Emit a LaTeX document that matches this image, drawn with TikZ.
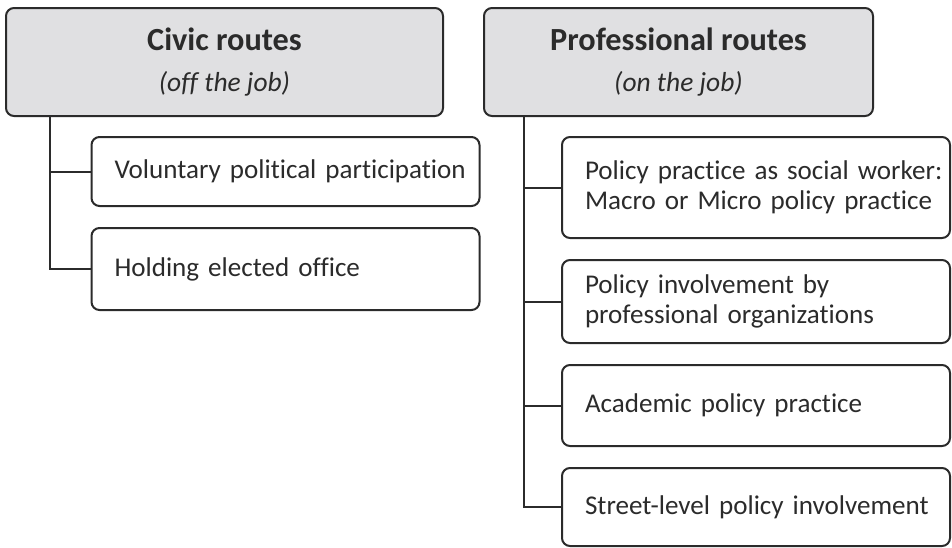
\documentclass[tikz,border=0pt]{standalone}
\usepackage{fontspec}
\setmainfont{Carlito}[Ligatures=NoCommon]
\usepackage{tikz}

\definecolor{headgray}{HTML}{E0E0E2}
\definecolor{inkgray}{HTML}{2B2B2B}

\begin{document}
\begin{tikzpicture}[x=0.75pt, y=-0.75pt,
        every node/.style={text=inkgray, font=\fontsize{20.3}{22.5}\selectfont},
        headbox/.style={draw=inkgray, line width=1.5pt, fill=headgray, rounded corners=6pt,
            align=center, minimum height=81pt, inner sep=0pt,
            font=\fontsize{20.6}{30.75}\selectfont},
        itembox/.style={draw=inkgray, line width=1.5pt, rounded corners=6pt,
            align=left, inner xsep=0pt, inner ysep=0pt, text width=291pt,
            execute at begin node={\leftskip=17.25pt}},
        branch/.style={draw=inkgray, line width=1.5pt}]
            \useasboundingbox (0, 0) rectangle (952, 547);
            % header boxes
            \node[headbox, minimum width=327.75pt] (civic) at (224.5, 62)
                {\textbf{\fontsize{24.2}{30.75}\selectfont Civic routes}\\\textit{(off the job)}};
            \node[headbox, minimum width=291.75pt] (prof) at (678.5, 62)
                {\textbf{\fontsize{24.2}{30.75}\selectfont Professional routes}\\\textit{(on the job)}};
            % civic items
            \node[itembox, minimum height=51.75pt] (vol) at (285.5, 171.5)
                {Voluntary political participation};
            \node[itembox, minimum height=61.5pt] (hold) at (285.5, 269)
                {Holding elected office};
            % professional items
            \node[itembox, minimum height=75.75pt] (social) at (756, 187.5)
                {Policy practice as social worker:\\Macro or Micro policy practice};
            \node[itembox, minimum height=62.25pt] (orgs) at (756, 301.5)
                {Policy involvement by\\professional organizations};
            \node[itembox, minimum height=60.75pt] (acad) at (756, 405.5)
                {Academic policy practice};
            \node[itembox, minimum height=58.5pt] (street) at (756, 507)
                {Street-level policy involvement};
            % trunks
            \coordinate (civtrunk) at (50, 116);
            \coordinate (proftrunk) at (524, 116);
            \draw[branch] (civtrunk) |- (hold.west);
            \draw[branch] (civtrunk |- vol.west) -- (vol.west);
            \draw[branch] (proftrunk) |- (street.west);
            \draw[branch] (proftrunk |- social.west) -- (social.west);
            \draw[branch] (proftrunk |- orgs.west) -- (orgs.west);
            \draw[branch] (proftrunk |- acad.west) -- (acad.west);
        \end{tikzpicture}
\end{document}
